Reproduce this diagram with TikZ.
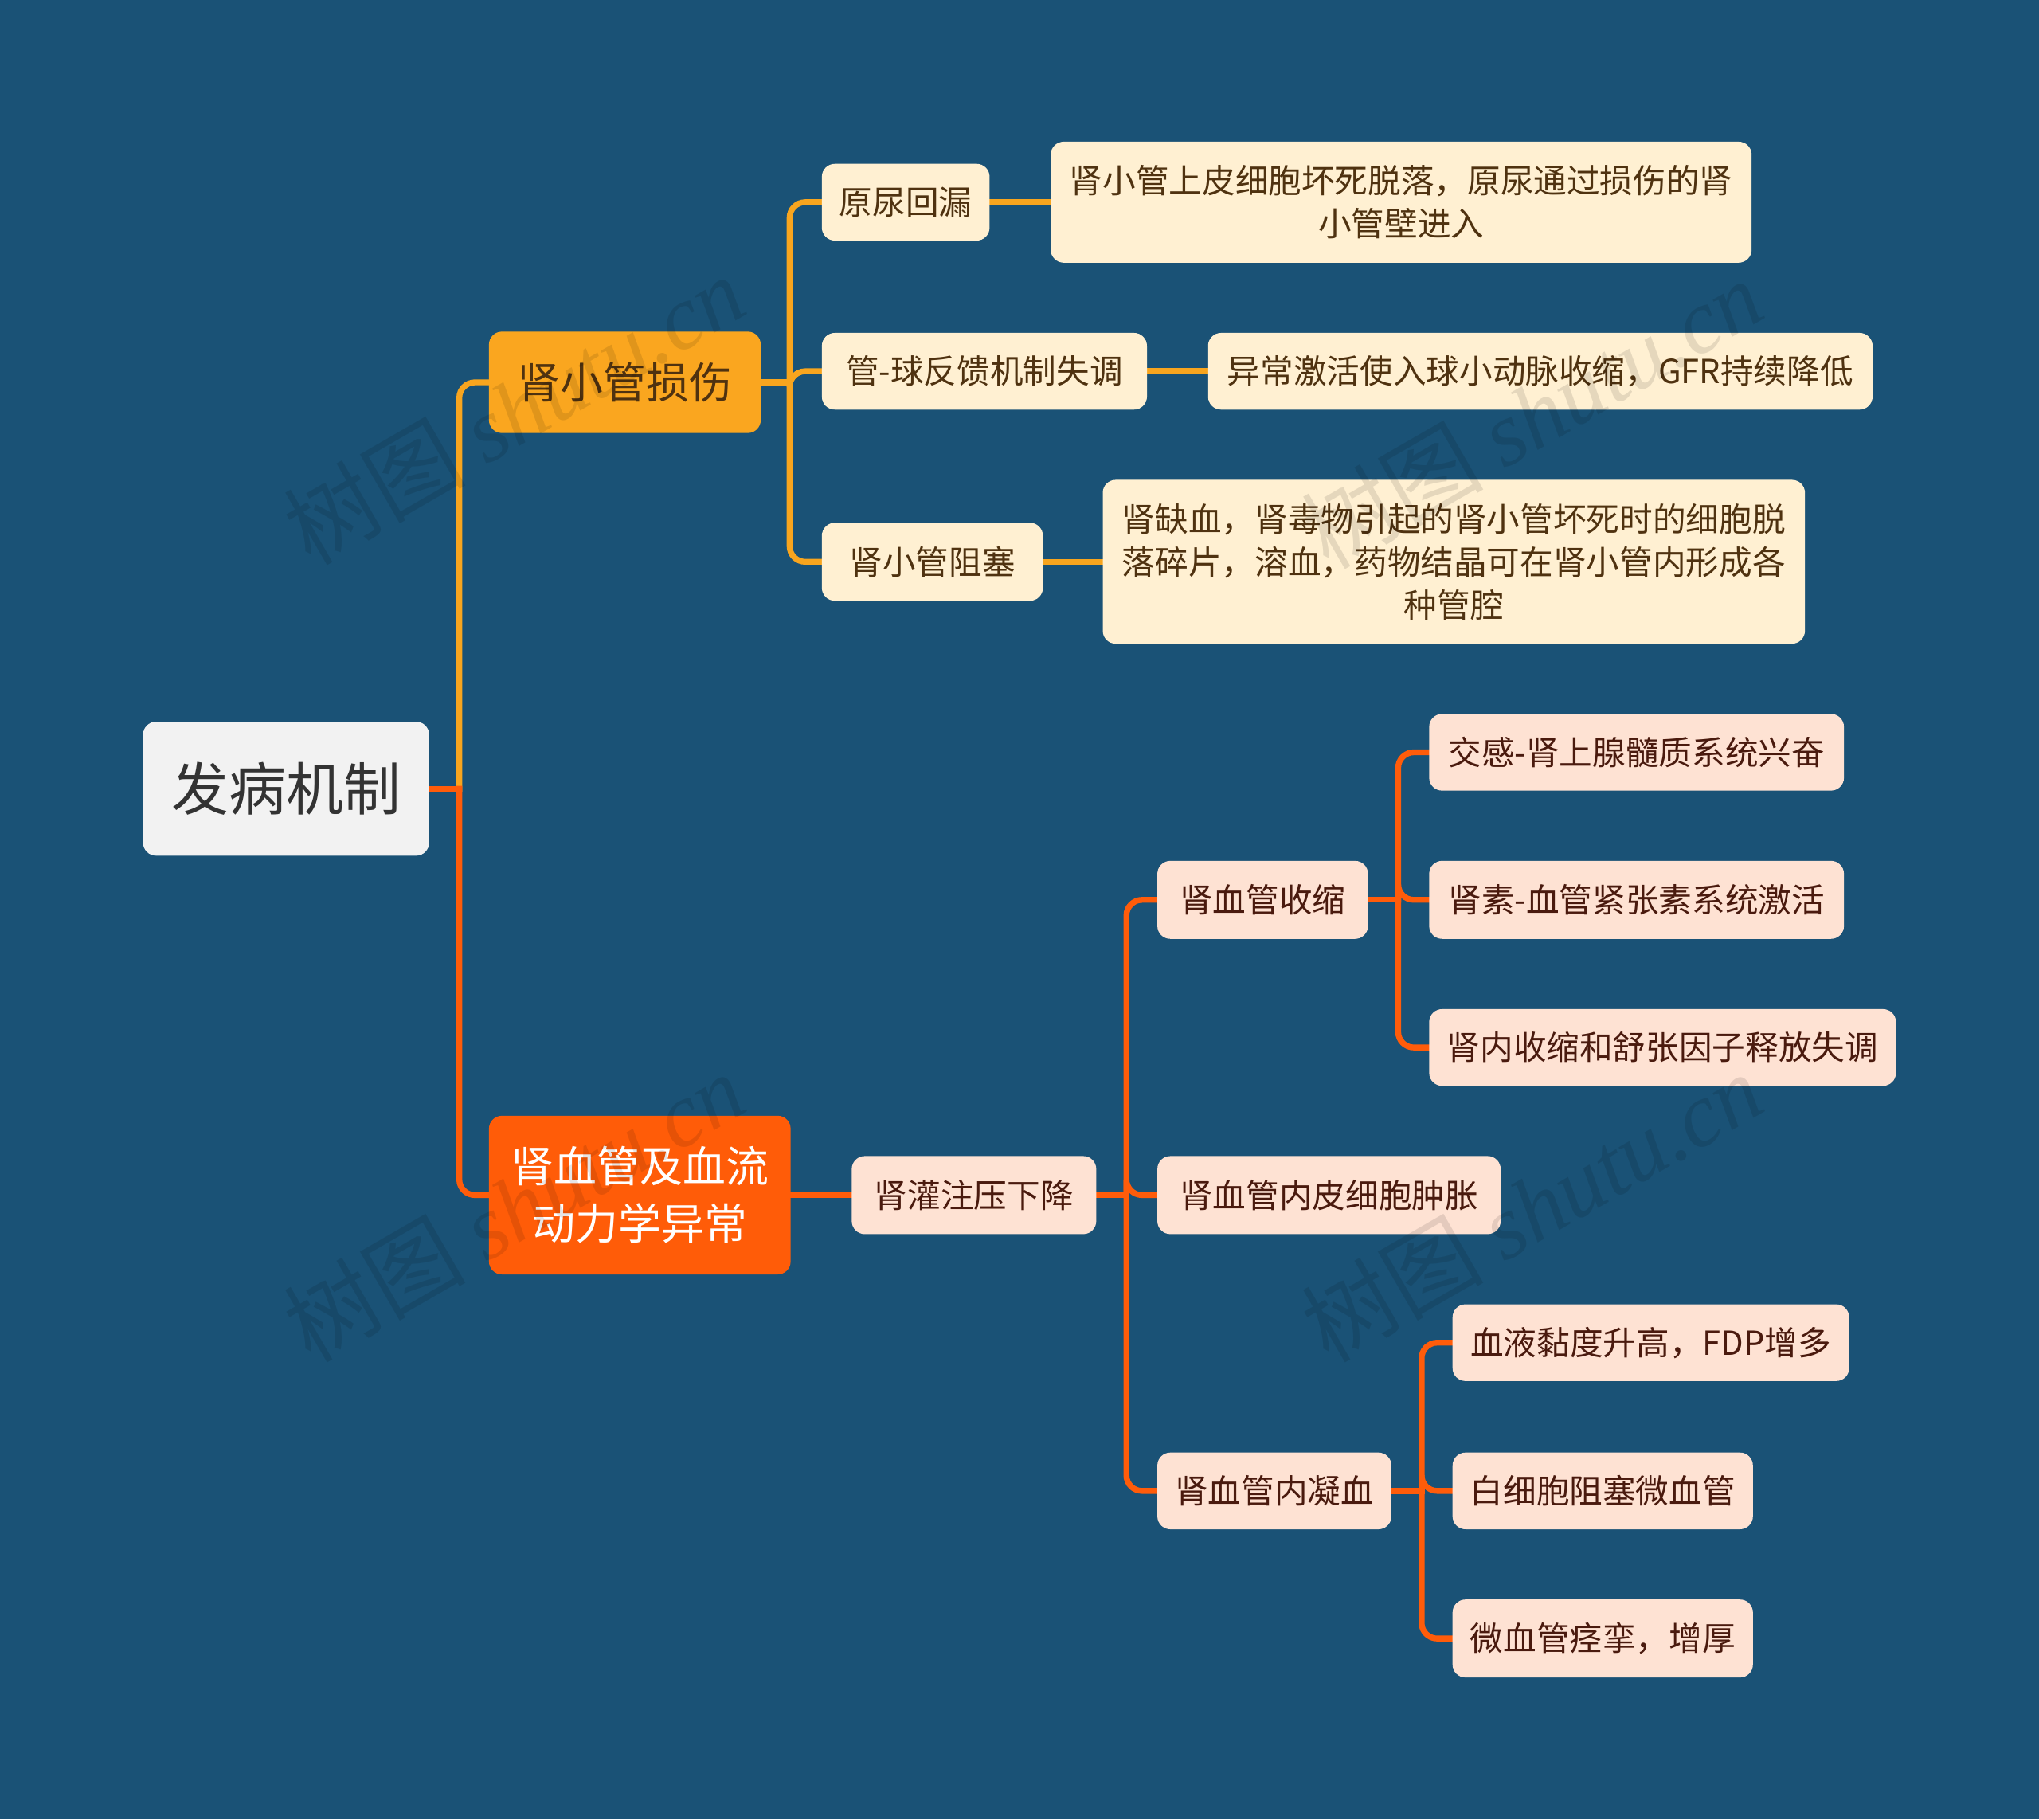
\documentclass[tikz,border=0pt]{standalone}
\usepackage{fontspec}
\setmainfont{Noto Sans CJK SC}
\newfontfamily\wmserif{Liberation Serif}
\usetikzlibrary{calc}
\definecolor{bgc}{HTML}{1A5276}
\definecolor{orgline}{HTML}{F8A51E}
\definecolor{redline}{HTML}{FF5C0A}
\definecolor{rootfill}{HTML}{F2F2F2}
\definecolor{afill}{HTML}{FAA61F}
\definecolor{bfill}{HTML}{FF5C08}
\definecolor{creamfill}{HTML}{FFF0D2}
\definecolor{pinkfill}{HTML}{FEE2D3}
\definecolor{brownt}{HTML}{4F3210}
\definecolor{maroont}{HTML}{4A1A0E}
\definecolor{roott}{HTML}{333333}
\pgfdeclarelayer{edges}
\pgfsetlayers{edges,main}
\begin{document}
\begin{tikzpicture}[x=1pt,y=-1pt,
  box/.style={rectangle,rounded corners=10pt,inner sep=0pt,align=center},
  rootbox/.style={box,fill=rootfill,text=roott,font=\fontsize{44}{52}\selectfont},
  abox/.style={box,fill=afill,text=brownt,font=\fontsize{33}{44}\selectfont},
  bbox/.style={box,fill=bfill,text=white,font=\fontsize{33}{44}\selectfont},
  cream/.style={box,fill=creamfill,text=brownt,font=\fontsize{25.5}{33}\selectfont},
  pink/.style={box,fill=pinkfill,text=maroont,font=\fontsize{25.5}{33}\selectfont},
  oedge/.style={draw=orgline,line width=4.5pt,line cap=rect},
  redge/.style={draw=redline,line width=4.5pt,line cap=rect},
  wm/.style={text=black,opacity=0.1,rotate=30,font=\fontsize{70}{70}\selectfont}
]
\useasboundingbox (0,0) rectangle (1568,1399);
\begin{pgfonlayer}{edges}
\fill[bgc] (0,0) rectangle (1568,1399);
\end{pgfonlayer}

% nodes
\node[rootbox,minimum width=220pt,minimum height=103pt] (root) at (220,606.5) {发病机制};
\node[abox,minimum width=209pt,minimum height=78pt] (A) at (480.5,294) {肾小管损伤};
\node[bbox,minimum width=232pt,minimum height=122pt] (B) at (492,919) {肾血管及血流\\动力学异常};

\node[cream,minimum width=129pt,minimum height=59pt] (A1) at (696.5,155.5) {原尿回漏};
\node[cream,minimum width=250pt,minimum height=59pt] (A2) at (757,285.5) {管-球反馈机制失调};
\node[cream,minimum width=170pt,minimum height=60pt] (A3) at (717,432) {肾小管阻塞};
\node[cream,minimum width=539pt,minimum height=93pt] (A1a) at (1077.5,155.5) {肾小管上皮细胞坏死脱落，原尿通过损伤的肾\\小管壁进入};
\node[cream,minimum width=511pt,minimum height=59pt] (A2a) at (1184.5,285.5) {异常激活使入球小动脉收缩，GFR持续降低};
\node[cream,minimum width=540pt,minimum height=126pt] (A3a) at (1118,432) {肾缺血，肾毒物引起的肾小管坏死时的细胞脱\\落碎片，溶血，药物结晶可在肾小管内形成各\\种管腔};

\node[pink,minimum width=188pt,minimum height=60pt] (B1) at (749,919) {肾灌注压下降};
\node[pink,minimum width=162pt,minimum height=60pt] (B11) at (971,692) {肾血管收缩};
\node[pink,minimum width=264pt,minimum height=60pt] (B12) at (1022,919) {肾血管内皮细胞肿胀};
\node[pink,minimum width=180pt,minimum height=59pt] (B13) at (980,1146.5) {肾血管内凝血};
\node[pink,minimum width=319pt,minimum height=59pt] (B111) at (1258.5,578.5) {交感-肾上腺髓质系统兴奋};
\node[pink,minimum width=319pt,minimum height=60pt] (B112) at (1258.5,692) {肾素-血管紧张素系统激活};
\node[pink,minimum width=359pt,minimum height=59pt] (B113) at (1278.5,805.5) {肾内收缩和舒张因子释放失调};
\node[pink,minimum width=305pt,minimum height=59pt] (B131) at (1269.5,1032.5) {血液黏度升高，FDP增多};
\node[pink,minimum width=231pt,minimum height=59pt] (B132) at (1232.5,1146.5) {白细胞阻塞微血管};
\node[pink,minimum width=231pt,minimum height=60pt] (B133) at (1232.5,1260) {微血管痉挛，增厚};

% connectors
\begin{pgfonlayer}{edges}
\coordinate (jr) at ($(root.east)+(23,0)$);
\draw[oedge] (root.east) -- (jr);
\draw[oedge,rounded corners=12pt] (jr) |- (A.west);
\draw[redge] (root.east) -- (jr);
\draw[redge,rounded corners=12pt] (jr) |- (B.west);

\coordinate (ja) at ($(A.east)+(22,0)$);
\draw[oedge] (A.east) -- (ja);
\draw[oedge,rounded corners=12pt] (ja) |- (A1.west);
\draw[oedge,rounded corners=12pt] (ja) |- (A2.west);
\draw[oedge,rounded corners=12pt] (ja) |- (A3.west);
\draw[oedge] (A1.east) -- (A1a.west);
\draw[oedge] (A2.east) -- (A2a.west);
\draw[oedge] (A3.east) -- (A3a.west);

\draw[redge] (B.east) -- (B1.west);
\coordinate (jb) at ($(B1.east)+(23,0)$);
\draw[redge] (B1.east) -- (jb);
\draw[redge,rounded corners=12pt] (jb) |- (B11.west);
\draw[redge,rounded corners=12pt] (jb) |- (B12.west);
\draw[redge,rounded corners=12pt] (jb) |- (B13.west);

\coordinate (jb1) at ($(B11.east)+(23,0)$);
\draw[redge] (B11.east) -- (jb1);
\draw[redge,rounded corners=12pt] (jb1) |- (B111.west);
\draw[redge,rounded corners=12pt] (jb1) |- (B112.west);
\draw[redge,rounded corners=12pt] (jb1) |- (B113.west);

\coordinate (jb3) at ($(B13.east)+(23,0)$);
\draw[redge] (B13.east) -- (jb3);
\draw[redge,rounded corners=12pt] (jb3) |- (B131.west);
\draw[redge,rounded corners=12pt] (jb3) |- (B132.west);
\draw[redge,rounded corners=12pt] (jb3) |- (B133.west);
\end{pgfonlayer}

% watermarks
\node[wm] (w1) at (395,315) {树图 {\wmserif\itshape shutu.cn}};
\node[wm] (w2) at (395,928) {树图 {\wmserif\itshape shutu.cn}};
\node[wm] (w3) at (1178,318) {树图 {\wmserif\itshape shutu.cn}};
\node[wm] (w4) at (1178,928) {树图 {\wmserif\itshape shutu.cn}};
\end{tikzpicture}
\end{document}
